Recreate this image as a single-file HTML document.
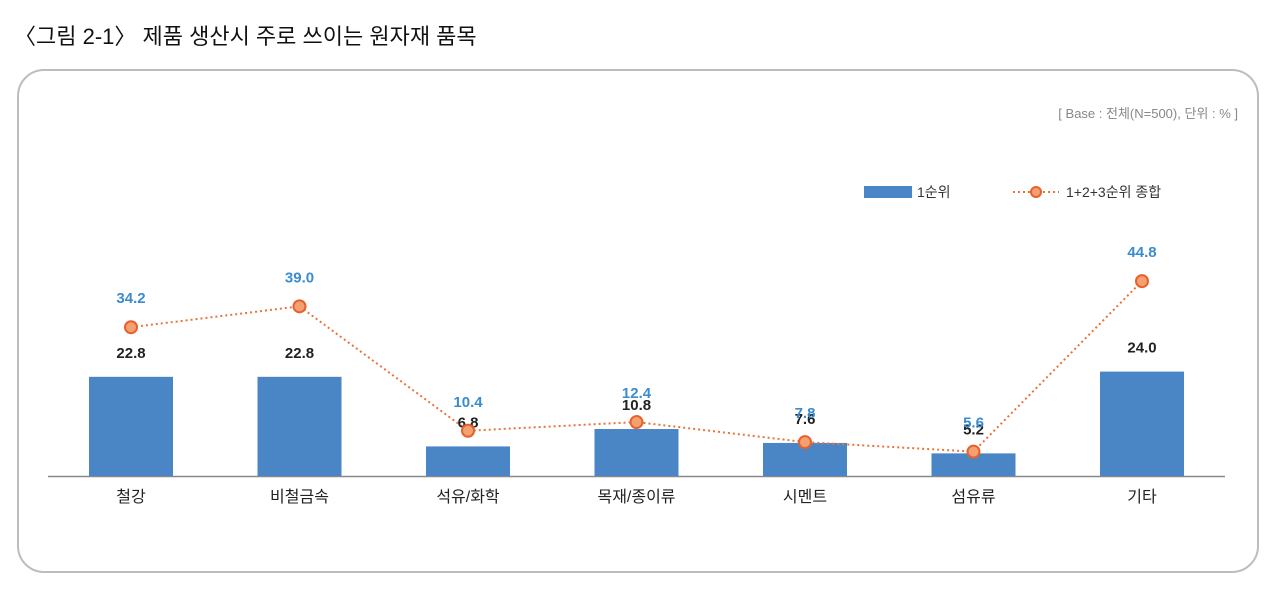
<!DOCTYPE html>
<html><head><meta charset="utf-8"><style>
body{margin:0;background:#fff;width:1280px;height:585px;overflow:hidden;font-family:"Liberation Sans","Noto Sans CJK KR",sans-serif}
</style></head><body>
<svg width="1280" height="585">
<text x="14" y="44" font-size="22" fill="#111" font-family="Liberation Sans, Noto Sans CJK KR, sans-serif">〈그림 2-1〉 제품 생산시 주로 쓰이는 원자재 품목</text>
<rect x="18" y="70" width="1240" height="502" rx="26" fill="#fff" stroke="#bdbdbd" stroke-width="2"/>
<text x="1238" y="118" font-size="13" fill="#888" text-anchor="end">[ Base : 전체(N=500),  단위 : % ]</text>
<g>
<rect x="864" y="186" width="48" height="12" fill="#4a86c5"/>
<text x="917" y="197" font-size="14" fill="#333">1순위</text>
<line x1="1013" y1="192" x2="1059" y2="192" stroke="#e8743b" stroke-width="2" stroke-dasharray="2,3"/>
<circle cx="1036" cy="192" r="5" fill="#f4a070" stroke="#e8602c" stroke-width="2"/>
<text x="1066" y="197" font-size="14" fill="#333">1+2+3순위 종합</text>
</g>
<line x1="48" y1="476.5" x2="1225" y2="476.5" stroke="#888" stroke-width="1.5"/>
<g id="plot"></g>
</svg>
<script>
const categories=["철강","비철금속","석유/화학","목재/종이류","시멘트","섬유유류".slice(0,0)+"섬유류","기타"];
const rank1=[22.8,22.8,6.8,10.8,7.6,5.2,24.0];
const total=[34.2,39.0,10.4,12.4,7.8,5.6,44.8];
const NS="http://www.w3.org/2000/svg";
const base=476, scale=4.35, x0=131, step=168.5, bw=84;
const xPos=i=>x0+i*step, yPos=v=>base-v*scale;
const g=document.getElementById('plot');
function mk(t,a){const e=document.createElementNS(NS,t);for(const k in a)e.setAttribute(k,a[k]);g.appendChild(e);return e;}
rank1.forEach((v,i)=>{
 const r=mk('rect',{x:xPos(i)-bw/2,y:yPos(v),width:bw,height:v*scale,fill:'#4a86c5'});
 
 
});
let pts=total.map((v,i)=>xPos(i)+','+yPos(v)).join(' ');
const pl=mk('polyline',{points:pts,fill:'none',stroke:'#e8743b','stroke-width':2,'stroke-dasharray':'2,3'});


rank1.forEach((v,i)=>{
 const t=mk('text',{x:xPos(i),y:yPos(v)-19,'font-size':15,'font-weight':'bold',fill:'#222','text-anchor':'middle'});
 t.textContent=v.toFixed(1);
 
 
});
total.forEach((v,i)=>{
 const c=mk('circle',{cx:xPos(i),cy:yPos(v),r:6,fill:'#f4a070',stroke:'#e8602c','stroke-width':2});
 
 
 const t=mk('text',{x:xPos(i),y:yPos(v)-24,'font-size':15,'font-weight':'bold',fill:'#3a8ccf','text-anchor':'middle'});
 t.textContent=v.toFixed(1);
 
 
});
categories.forEach((c,i)=>{
 const t=mk('text',{x:xPos(i),y:502,'font-size':16,fill:'#222','text-anchor':'middle'});
 t.textContent=c;
 
 
});
</script>
</body></html>
